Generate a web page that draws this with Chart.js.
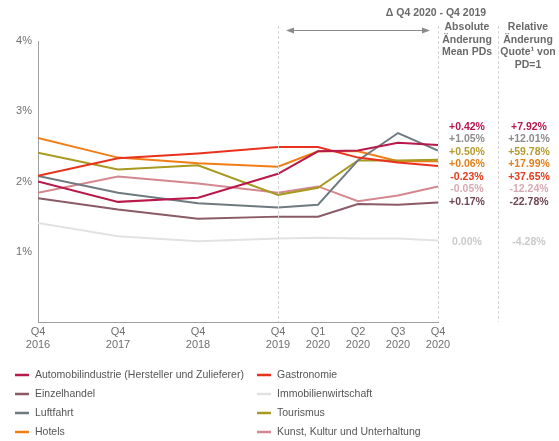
<!DOCTYPE html>
<html>
<head>
<meta charset="utf-8">
<script src="https://cdn.jsdelivr.net/npm/chart.js@4.4.1/dist/chart.umd.min.js"></script>
<style>
  html, body { margin: 0; padding: 0; background: #fff; }
  #wrap { width: 559px; height: 441px; }
</style>
</head>
<body>
<div id="wrap"><canvas id="pdChart" width="559" height="441"></canvas></div>
<script>
// x positions (one unit = one quarter between 2019 and 2020, years squeezed before)
const xPos = [0, 2, 4, 6, 7, 8, 9, 10];
const tickLabels = [
  ["Q4", "2016"], ["Q4", "2017"], ["Q4", "2018"], ["Q4", "2019"],
  ["Q1", "2020"], ["Q2", "2020"], ["Q3", "2020"], ["Q4", "2020"]
];

// Mean PDs in %
const automobil    = [2.00, 1.71, 1.77, 2.11, 2.43, 2.44, 2.55, 2.52];
const gastronomie  = [2.08, 2.33, 2.40, 2.49, 2.49, 2.34, 2.27, 2.22];
const einzelhandel = [1.76, 1.60, 1.47, 1.50, 1.50, 1.68, 1.67, 1.70];
const immobilien   = [1.41, 1.22, 1.15, 1.19, 1.20, 1.19, 1.19, 1.16];
const luftfahrt    = [2.08, 1.84, 1.69, 1.63, 1.67, 2.30, 2.69, 2.44];
const tourismus    = [2.41, 2.17, 2.23, 1.81, 1.91, 2.30, 2.30, 2.31];
const hotels       = [2.62, 2.34, 2.26, 2.21, 2.43, 2.43, 2.29, 2.29];
const kunst        = [1.84, 2.07, 1.97, 1.84, 1.93, 1.72, 1.80, 1.93];

// Change table (Q4 2020 - Q4 2019)
const absChange = ["+0.42%", "+1.05%", "+0.50%", "+0.06%", "-0.23%", "-0.05%", "+0.17%"];
const relChange = ["+7.92%", "+12.01%", "+59.78%", "+17.99%", "+37.65%", "-12.24%", "-22.78%"];
const changeColors = ["#b8174c", "#8c8c8c", "#b39b2e", "#e47e1a", "#e23b1e", "#d9a9b3", "#6e4653"];
const immoAbs = "0.00%";
const immoRel = "-4.28%";

const series = [
  { label: "Automobilindustrie (Hersteller und Zulieferer)", data: automobil, color: "#b8184a" },
  { label: "Gastronomie", data: gastronomie, color: "#e8321e" },
  { label: "Einzelhandel", data: einzelhandel, color: "#8a5a66" },
  { label: "Immobilienwirtschaft", data: immobilien, color: "#e2e2e2" },
  { label: "Luftfahrt", data: luftfahrt, color: "#6f7a80" },
  { label: "Tourismus", data: tourismus, color: "#a89a20" },
  { label: "Hotels", data: hotels, color: "#f07d16" },
  { label: "Kunst, Kultur und Unterhaltung", data: kunst, color: "#d4878f" }
];

const FONT = "'Liberation Sans', Arial, sans-serif";

// Header, table and legend drawn on top
const overlayPlugin = {
  id: "overlay",
  afterDraw(chart) {
    const ctx = chart.ctx;
    const area = chart.chartArea;
    ctx.save();

    // vertical separators
    ctx.strokeStyle = "#d4d4d4";
    ctx.lineWidth = 1;
    ctx.setLineDash([3, 2]);
    [chart.scales.x.getPixelForValue(6), 438, 498].forEach(x => {
      ctx.beginPath();
      ctx.moveTo(Math.round(x) + 0.5, 26);
      ctx.lineTo(Math.round(x) + 0.5, area.bottom);
      ctx.stroke();
    });
    ctx.setLineDash([]);

    // double arrow
    const ay = 30.5;
    ctx.strokeStyle = "#8a8a8a";
    ctx.fillStyle = "#8a8a8a";
    ctx.beginPath();
    ctx.moveTo(290, ay);
    ctx.lineTo(426, ay);
    ctx.stroke();
    ctx.beginPath();
    ctx.moveTo(286, ay); ctx.lineTo(294, ay - 3); ctx.lineTo(294, ay + 3); ctx.closePath(); ctx.fill();
    ctx.beginPath();
    ctx.moveTo(430, ay); ctx.lineTo(422, ay - 3); ctx.lineTo(422, ay + 3); ctx.closePath(); ctx.fill();

    // headers
    ctx.fillStyle = "#6a6a6a";
    ctx.font = "bold 10.5px " + FONT;
    ctx.textAlign = "center";
    ctx.textBaseline = "middle";
    ctx.fillText("\u0394 Q4 2020 - Q4 2019", 436, 13);
    ["Absolute", "\u00c4nderung", "Mean PDs"].forEach((t, i) => ctx.fillText(t, 467, 27 + i * 12.7));
    ["Relative", "\u00c4nderung", "Quote\u00b9 von", "PD=1"].forEach((t, i) => ctx.fillText(t, 528, 27 + i * 12.7));

    // change values
    ctx.font = "bold 10.5px " + FONT;
    absChange.forEach((t, i) => {
      ctx.fillStyle = changeColors[i];
      ctx.fillText(t, 467, 127 + i * 12.5);
      ctx.fillText(relChange[i], 529, 127 + i * 12.5);
    });
    ctx.fillStyle = "#cacaca";
    ctx.fillText(immoAbs, 467, 242);
    ctx.fillText(immoRel, 529, 242);

    // legend, two columns
    ctx.textAlign = "left";
    ctx.font = "10.5px " + FONT;
    series.forEach((s, i) => {
      const col = i % 2;
      const row = Math.floor(i / 2);
      const x = col === 0 ? 15 : 257;
      const y = 375 + row * 19;
      ctx.strokeStyle = s.color;
      ctx.lineWidth = 2.5;
      ctx.beginPath();
      ctx.moveTo(x, y);
      ctx.lineTo(x + 14, y);
      ctx.stroke();
      ctx.fillStyle = "#555";
      ctx.fillText(s.label, x + 20, y + 0.5);
    });

    ctx.restore();
  }
};

new Chart(document.getElementById("pdChart"), {
  type: "line",
  data: {
    datasets: series.map(s => ({
      label: s.label,
      data: s.data.map((v, i) => ({ x: xPos[i], y: v })),
      borderColor: s.color,
      backgroundColor: s.color,
      borderWidth: 2,
      pointRadius: 0,
      tension: 0,
      fill: false
    }))
  },
  options: {
    responsive: false,
    animation: false,
    layout: { padding: { left: 0, top: 41, right: 121, bottom: 89 } },
    plugins: {
      legend: { display: false },
      tooltip: { enabled: false }
    },
    scales: {
      x: {
        type: "linear",
        min: 0,
        max: 10,
        afterBuildTicks: scale => { scale.ticks = xPos.map(v => ({ value: v })); },
        afterFit: scale => { scale.height = 30; },
        grid: { display: false, drawTicks: false },
        border: { display: true, color: "#a0a0a0" },
        ticks: {
          autoSkip: false,
          maxRotation: 0,
          padding: 3,
          color: "#707070",
          font: { family: FONT, size: 11 },
          callback: value => tickLabels[xPos.indexOf(value)]
        }
      },
      y: {
        min: 0,
        max: 4,
        afterFit: scale => { scale.width = 38; },
        grid: { display: false, drawTicks: false },
        border: { display: true, color: "#a0a0a0" },
        ticks: {
          stepSize: 1,
          padding: 6,
          color: "#707070",
          font: { family: FONT, size: 11 },
          callback: v => (v === 0 ? "" : v + "%")
        }
      }
    }
  },
  plugins: [overlayPlugin]
});
</script>
</body>
</html>
